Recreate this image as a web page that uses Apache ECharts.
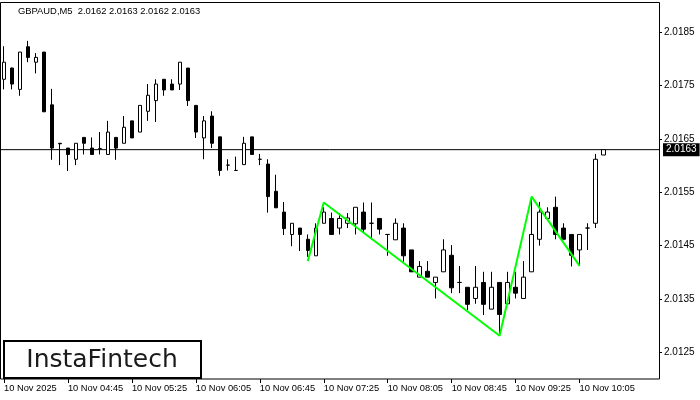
<!DOCTYPE html>
<html><head><meta charset="utf-8">
<script src="https://cdn.jsdelivr.net/npm/echarts@6/dist/echarts.min.js"></script>
<style>html,body{margin:0;padding:0;background:#fff}#c{width:700px;height:400px}</style>
</head><body><div id="c"></div>
<script>
const categories = [
 '04:05','04:10','04:15','04:20','04:25','04:30','04:35','04:40','04:45','04:50','04:55',
 '05:00','05:05','05:10','05:15','05:20','05:25','05:30','05:35','05:40','05:45','05:50','05:55',
 '06:00','06:05','06:10','06:15','06:20','06:25','06:30','06:35','06:40','06:45','06:50','06:55',
 '07:00','07:05','07:10','07:15','07:20','07:25','07:30','07:35','07:40','07:45','07:50','07:55',
 '08:00','08:05','08:10','08:15','08:20','08:25','08:30','08:35','08:40','08:45','08:50','08:55',
 '09:00','09:05','09:10','09:15','09:20','09:25','09:30','09:35','09:40','09:45','09:50','09:55',
 '10:00','10:05','10:10','10:15','10:20','10:25','10:30','10:35','10:40','10:45','10:50'
];
const tickLabels = ['10 Nov 2025','10 Nov 04:45','10 Nov 05:25','10 Nov 06:05','10 Nov 06:45',
 '10 Nov 07:25','10 Nov 08:05','10 Nov 08:45','10 Nov 09:25','10 Nov 10:05'];
const opens = [
 2.01762,2.01783,2.01743,2.01823,2.01794,2.01813,2.01714,2.01642,2.01633,2.01612,
 2.01653,2.01633,2.01632,2.01621,2.01653,2.01642,2.01684,2.01663,2.01702,2.01722,
 2.01762,2.01753,2.01753,2.01783,2.01713,2.01652,2.01693,2.01654,2.01601,2.01591,
 2.01602,2.01654,2.01612,2.01603,2.01552,2.01513,2.01471,2.01483,2.01462,2.01431,
 2.01492,2.01501,2.01483,2.01492,2.01491,2.01513,2.01492,2.01501,2.01471,2.01461,
 2.01483,2.01442,2.01391,2.01402,2.01381,2.01401,2.01432,2.01381,2.01372,2.01351,
 2.01381,2.01331,2.01381,2.01341,2.01372,2.01351,2.01401,2.01462,2.01501,2.01522,
 2.01483,2.01471,2.01442,2.01483,2.01492,2.0162
];
const closes = [
 2.01794,2.01753,2.01813,2.01803,2.01803,2.01701,2.01633,2.01641,2.01621,2.01642,
 2.01642,2.01621,2.01632,2.01663,2.01633,2.01672,2.01652,2.01713,2.01732,2.01753,
 2.01742,2.01742,2.01794,2.01722,2.01663,2.01684,2.01642,2.01591,2.01601,2.01591,
 2.01642,2.01621,2.01612,2.01542,2.01521,2.01482,2.01492,2.01471,2.01441,2.01483,
 2.01513,2.01471,2.01501,2.01502,2.01522,2.01481,2.01492,2.01481,2.01471,2.01492,
 2.01431,2.01401,2.01411,2.01391,2.01391,2.01442,2.01371,2.01381,2.01340,2.01372,
 2.01340,2.01372,2.01321,2.01381,2.01361,2.01391,2.01471,2.01513,2.01513,2.01471,
 2.01462,2.01432,2.01471,2.01483,2.01612,2.0163
];
const lows = [
 2.01743,2.01743,2.01731,2.01794,2.01773,2.01701,2.01611,2.01601,2.01590,2.01601,
 2.01621,2.01621,2.01621,2.01621,2.01611,2.01642,2.01652,2.01663,2.01684,2.01682,
 2.01731,2.01742,2.01742,2.01712,2.01652,2.01612,2.01633,2.01581,2.01591,2.01591,
 2.01602,2.01621,2.01601,2.01512,2.01521,2.01470,2.01449,2.01440,2.01429,2.01431,
 2.01492,2.01471,2.01471,2.01483,2.01471,2.01474,2.01461,2.01471,2.01431,2.01461,
 2.01420,2.01401,2.01391,2.01391,2.01351,2.01401,2.01361,2.01361,2.01329,2.01341,
 2.01320,2.01331,2.01281,2.01341,2.01351,2.01351,2.01401,2.01450,2.01501,2.01462,
 2.01462,2.01411,2.01412,2.01442,2.01483,2.0162
];
const highs = [
 2.01824,2.01784,2.01813,2.01834,2.01811,2.01813,2.01744,2.01642,2.01633,2.01642,
 2.01653,2.01653,2.01663,2.01684,2.01653,2.01693,2.01684,2.01713,2.01753,2.01762,
 2.01762,2.01762,2.01794,2.01783,2.01713,2.01693,2.01702,2.01654,2.01612,2.01617,
 2.01654,2.01654,2.01622,2.01612,2.01583,2.01532,2.01492,2.01483,2.01471,2.01492,
 2.01522,2.01512,2.01511,2.01511,2.01522,2.01531,2.01531,2.01501,2.01471,2.01501,
 2.01492,2.01442,2.01421,2.01421,2.01391,2.01462,2.01451,2.01412,2.01372,2.01412,
 2.01401,2.01401,2.01381,2.01401,2.01401,2.01421,2.01542,2.01532,2.01522,2.01542,
 2.01492,2.01471,2.01471,2.01492,2.01622,2.0163
];
const patternIdx = [38, 40, 62, 66, 72];
const patternPrices = [2.01421, 2.01531, 2.01281, 2.01542, 2.01412];
const yTicks = [2.0125, 2.0135, 2.0145, 2.0155, 2.0165, 2.0175, 2.0185];
const lastPrice = 2.0163;
const titleText = 'GBPAUD,M5  2.0162 2.0163 2.0162 2.0163';
const logoText = 'InstaFintech';

const candleData = opens.map((o, i) => [o, closes[i], lows[i], highs[i]]);
const patternData = patternIdx.map((x, i) => [x, patternPrices[i]]);
const showTick = (i) => i % 8 === 0 && i <= 72;
const FONT = 'Liberation Sans';

const chart = echarts.init(document.getElementById('c'), null, {renderer: 'canvas'});
chart.setOption({
  animation: false,
  backgroundColor: '#fff',
  grid: [
    {left: -0.5, top: 3, width: 656, height: 376},
    {left: 0, top: 3, width: 659, height: 376}
  ],
  xAxis: [
    {type: 'category', gridIndex: 0, data: categories, boundaryGap: true,
     axisLine: {show: false, onZero: false},
     axisTick: {show: true, alignWithLabel: true, interval: (i) => showTick(i), length: 4, lineStyle: {color: '#000'}},
     axisLabel: {interval: (i) => showTick(i), formatter: (v, i) => tickLabels[i / 8] || '',
       align: 'left', margin: 5, color: '#000', fontSize: 9.3, fontFamily: FONT},
     splitLine: {show: false}},
    {type: 'value', gridIndex: 1, min: 0, max: 1, show: false, axisLine: {onZero: false}}
  ],
  yAxis: [
    {type: 'value', gridIndex: 0, min: 2.012, max: 2.01905, show: false, axisLine: {onZero: false}},
    {type: 'value', gridIndex: 1, position: 'right', min: 2.012, max: 2.01905,
     axisLine: {show: false, onZero: false},
     axisTick: {show: true, customValues: yTicks, length: 3, lineStyle: {color: '#000'}},
     axisLabel: {customValues: yTicks, formatter: (v) => v.toFixed(4), margin: 5,
       color: '#000', fontSize: 10, fontFamily: FONT},
     splitLine: {show: false}}
  ],
  graphic: [
    {type: 'rect', z: 1, shape: {x: 0.5, y: 2.5, width: 659, height: 376.5},
     style: {fill: 'none', stroke: '#000', lineWidth: 1}},
    {type: 'text', z: 1, style: {text: titleText, x: 18, y: 11, verticalAlign: 'middle',
     font: '9.4px "Liberation Sans"', fill: '#000'}},
    {type: 'rect', z: 1, shape: {x: 4, y: 341, width: 197, height: 37},
     style: {fill: '#fff', stroke: '#000', lineWidth: 2}},
    {type: 'text', z: 2, style: {text: logoText, x: 102, y: 360, align: 'center', verticalAlign: 'middle',
     font: '25px "DejaVu Sans"', fill: '#1a1a1a'}}
  ],
  series: [
    {type: 'candlestick', xAxisIndex: 0, yAxisIndex: 0, data: candleData, barWidth: 4,
     itemStyle: {color: '#fff', color0: '#000', borderColor: '#000', borderColor0: '#000',
       borderColorDoji: '#000', borderWidth: 1},
     emphasis: {disabled: true}, z: 3},
    {type: 'line', xAxisIndex: 0, yAxisIndex: 0, data: patternData, symbol: 'none',
     lineStyle: {color: '#00ff00', width: 2}, z: 5, silent: true},
    {type: 'line', xAxisIndex: 1, yAxisIndex: 1, data: [[0, lastPrice], [1, lastPrice]],
     showSymbol: false, symbol: 'none', silent: true, z: 2,
     lineStyle: {color: '#000', width: 1},
     endLabel: {show: true, formatter: lastPrice.toFixed(4), color: '#fff', backgroundColor: '#000',
       padding: [2, 3, 1, 3], distance: 4, fontSize: 10, fontFamily: FONT}}
  ]
});
</script></body></html>
